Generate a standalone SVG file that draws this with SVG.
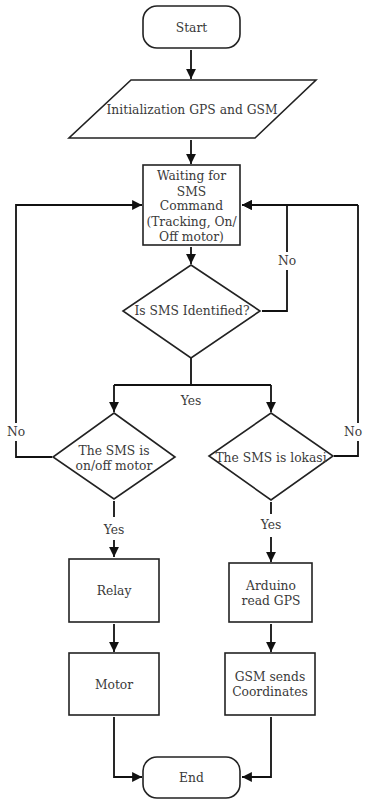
<svg xmlns="http://www.w3.org/2000/svg" width="365" height="800" viewBox="0 0 365 800">
<defs>
<marker id="ah" viewBox="0 0 10 10" refX="10" refY="5" markerWidth="5.5" markerHeight="5.5" markerUnits="strokeWidth" orient="auto">
<path d="M0,0 L10,5 L0,10 Z" fill="#111"/>
</marker>
<style>
.s{fill:#fff;stroke:#222;stroke-width:1.6}
.c{fill:none;stroke:#111;stroke-width:1.8}
.a{marker-end:url(#ah)}
text{font-family:"DejaVu Serif","Liberation Serif",serif;font-size:12.3px;fill:#3a3a3a;text-anchor:middle;dominant-baseline:central}
</style>
</defs>
<rect width="365" height="800" fill="#fff"/>
<g id="connectors">
<path class="c a" d="M191,50 V79"/>
<path class="c a" d="M191,140 V164"/>
<path class="c a" d="M191,247 V264"/>
<path class="c a" d="M262,311 H287 V270 M287,252 V205 H242"/>
<path class="c a" d="M52,457 H16 V441 M16,423 V205 H142"/>
<path class="c" d="M334,456 H358 V441 M358,423 V205"/>
<path class="c a" d="M358,205 H242"/>
<path class="c" d="M191,358 V385 M114,385 H271"/>
<path class="c a" d="M114,385 V412"/>
<path class="c a" d="M271,385 V412"/>
<path class="c a" d="M114,501 V517 M114,540 V557"/>
<path class="c a" d="M271,502 V514 M271,537 V562"/>
<path class="c a" d="M114,624 V652"/>
<path class="c a" d="M271,624 V652"/>
<path class="c a" d="M114,717 V777 H142"/>
<path class="c a" d="M271,717 V777 H242"/>
</g>
<g id="start"><rect class="s" x="143" y="6" width="97" height="42" rx="14"/><text x="191.5" y="28">Start</text></g>
<g id="init"><path class="s" d="M131,80 H316 L255,138 H69 Z"/><text x="192" y="110">Initialization GPS and GSM</text></g>
<g id="wait"><rect class="s" x="143" y="165" width="97" height="80"/>
<text x="191.5" y="176">Waiting for</text><text x="191.5" y="191.5">SMS</text><text x="191.5" y="206">Command</text><text x="191.5" y="222">(Tracking, On/</text><text x="191.5" y="237">Off motor)</text></g>
<g id="identified"><path class="s" d="M191,265 L260,311 L191,358 L123,311 Z"/><text x="192" y="311">Is SMS Identified?</text></g>
<g id="onoff"><path class="s" d="M114,413 L175,457 L114,499 L53,457 Z"/><text x="114" y="451">The SMS is</text><text x="114" y="466">on/off motor</text></g>
<g id="lokasi"><path class="s" d="M271,413 L333,456 L271,500 L209,456 Z"/><text x="271" y="458">The SMS is lokasi</text></g>
<g id="relay"><rect class="s" x="69" y="559" width="90" height="63"/><text x="114" y="591">Relay</text></g>
<g id="arduino"><rect class="s" x="229" y="563" width="83" height="59"/><text x="271" y="586">Arduino</text><text x="271" y="601">read GPS</text></g>
<g id="motor"><rect class="s" x="69" y="653" width="90" height="62"/><text x="114" y="685">Motor</text></g>
<g id="gsm"><rect class="s" x="225" y="653" width="90" height="62"/><text x="270" y="677">GSM sends</text><text x="270" y="692">Coordinates</text></g>
<g id="end"><rect class="s" x="143" y="757" width="97" height="41" rx="14"/><text x="191.5" y="778">End</text></g>
<g id="labels">
<text x="287" y="261">No</text>
<text x="16" y="432">No</text>
<text x="353" y="432">No</text>
<text x="191" y="401">Yes</text>
<text x="114" y="530">Yes</text>
<text x="271" y="525">Yes</text>
</g>
</svg>
